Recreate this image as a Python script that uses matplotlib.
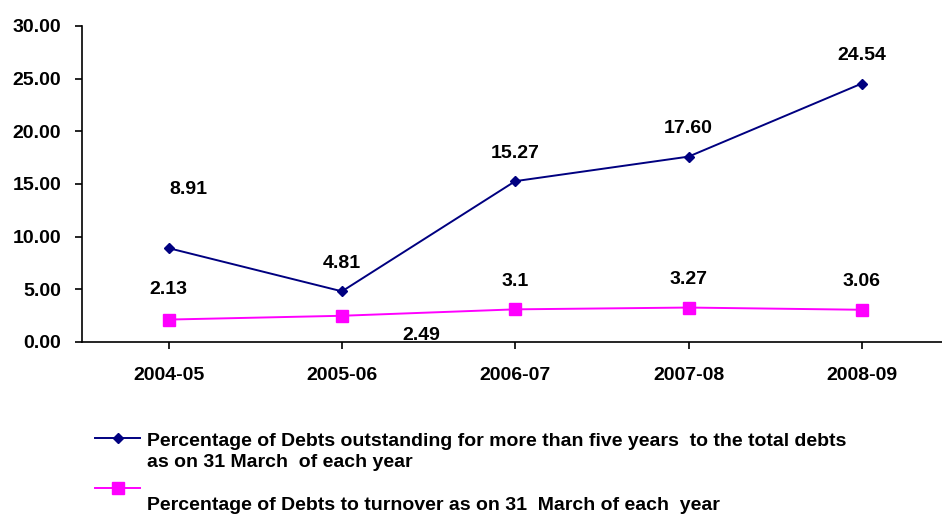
import matplotlib.pyplot as plt
from matplotlib.lines import Line2D

plt.rcParams['font.family'] = ['Liberation Sans', 'DejaVu Sans']
plt.rcParams['font.weight'] = 'bold'

years = ['2004-05', '2005-06', '2006-07', '2007-08', '2008-09']
debts_over_five = [8.91, 4.81, 15.27, 17.60, 24.54]
debts_turnover = [2.13, 2.49, 3.1, 3.27, 3.06]
labels_over_five = ['8.91', '4.81', '15.27', '17.60', '24.54']
labels_turnover = ['2.13', '2.49', '3.1', '3.27', '3.06']
legend_labels = [
    'Percentage of Debts outstanding for more than five years  to the total debts\nas on 31 March  of each year',
    'Percentage of Debts to turnover as on 31  March of each  year',
]

navy = '#000080'
magenta = '#FF00FF'

fig = plt.figure(figsize=(9.42, 5.15), dpi=100)
ax = fig.add_axes([82 / 942, 1 - 342 / 515, 866.5 / 942, 316 / 515])

x = list(range(len(years)))
ax.plot(x, debts_over_five, color=navy, lw=1.4, marker='D', ms=5.5, clip_on=False)
ax.plot(x, debts_turnover, color=magenta, lw=1.4, marker='s', ms=8.5, clip_on=False)

# data labels (offsets in points)
off_a = [(14, 42), (0, 20), (0, 20), (0, 20), (0, 20)]
off_b = [(0, 22), (57, -14), (0, 20), (0, 20), (0, 20)]
for i in x:
    ax.annotate(labels_over_five[i], (i, debts_over_five[i]), xytext=off_a[i],
                textcoords='offset points', ha='center', va='center',
                fontsize=14, fontweight='bold')
    ax.annotate(labels_turnover[i], (i, debts_turnover[i]), xytext=off_b[i],
                textcoords='offset points', ha='center', va='center',
                fontsize=14, fontweight='bold')

ax.set_xlim(-0.5, 4.5)
ax.set_ylim(0, 30)
ax.set_yticks(range(0, 31, 5))
ax.set_yticklabels([f'{v:.2f}' for v in range(0, 31, 5)])
ax.set_xticks(x)
ax.set_xticklabels(years)
ax.tick_params(axis='both', labelsize=14, width=1.2, length=5, direction='out')
ax.tick_params(axis='y', pad=10)
ax.tick_params(axis='x', pad=13)
for s in ['top', 'right']:
    ax.spines[s].set_visible(False)
for s in ['left', 'bottom']:
    ax.spines[s].set_linewidth(1.2)
for lab in ax.get_xticklabels() + ax.get_yticklabels():
    lab.set_fontweight('bold')

# legend drawn by hand to match the original layout
W, H = 942, 515
fig.add_artist(Line2D([95 / W, 140 / W], [1 - 438 / H] * 2, color=navy, lw=1.4,
                      transform=fig.transFigure))
fig.add_artist(Line2D([117.5 / W], [1 - 438 / H], color=navy, marker='D', ms=5.5,
                      transform=fig.transFigure))
fig.text(147 / W, 1 - 452 / H, legend_labels[0], fontsize=14, fontweight='bold',
         va='center', ha='left', linespacing=1.3)
fig.add_artist(Line2D([95 / W, 140 / W], [1 - 488 / H] * 2, color=magenta, lw=1.4,
                      transform=fig.transFigure))
fig.add_artist(Line2D([117.5 / W], [1 - 488 / H], color=magenta, marker='s', ms=8.5,
                      transform=fig.transFigure))
fig.text(147 / W, 1 - 505 / H, legend_labels[1], fontsize=14, fontweight='bold',
         va='center', ha='left')

fig.savefig('out.png', dpi=100)
